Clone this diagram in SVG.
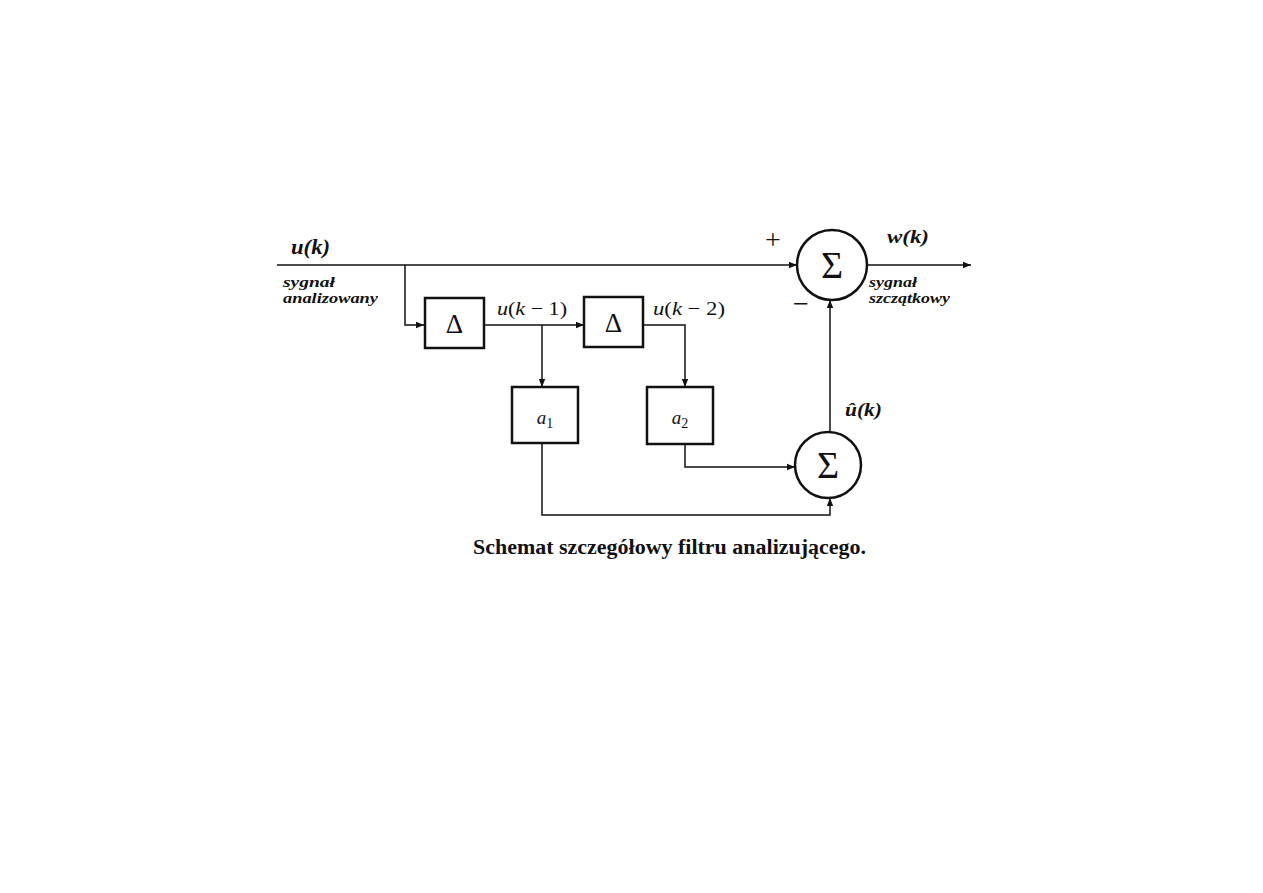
<svg xmlns="http://www.w3.org/2000/svg" width="1263" height="893" viewBox="0 0 1263 893">
<style>
.ln{fill:none;stroke:#111;stroke-width:1.5}
.bx{fill:#fff;stroke:#111;stroke-width:2.5}
.t{font-family:"Liberation Serif",serif;fill:#111}
.bi{font-weight:bold;font-style:italic}
</style>
<defs>
<marker id="ar" viewBox="0 0 10 10" refX="10" refY="5" markerWidth="8" markerHeight="8" markerUnits="userSpaceOnUse" orient="auto">
<path d="M0,1 L10,5 L0,9 z" fill="#111"/>
</marker>
</defs>
<rect width="1263" height="893" fill="#fff"/>
<g id="connectors">
<path class="ln" d="M277,265 H797" marker-end="url(#ar)"/>
<path class="ln" d="M867,265 H971" marker-end="url(#ar)"/>
<path class="ln" d="M405,265 V325 H424" marker-end="url(#ar)"/>
<path class="ln" d="M484,325 H584" marker-end="url(#ar)"/>
<path class="ln" d="M542,325 V387" marker-end="url(#ar)"/>
<path class="ln" d="M643,325 H685 V387" marker-end="url(#ar)"/>
<path class="ln" d="M685,444 V467 H795" marker-end="url(#ar)"/>
<path class="ln" d="M542,443 V515 H830 V498" marker-end="url(#ar)"/>
<path class="ln" d="M830,432 V300" marker-end="url(#ar)"/>
</g>
<g id="delay1">
<rect class="bx" x="425" y="298" width="59" height="50"/>
<text class="t" x="454.5" y="333" font-size="27" text-anchor="middle">Δ</text>
</g>
<g id="delay2">
<rect class="bx" x="584" y="297" width="59" height="50"/>
<text class="t" x="613.5" y="332" font-size="27" text-anchor="middle">Δ</text>
</g>
<g id="coef1">
<rect class="bx" x="512" y="387" width="66" height="56"/>
<text class="t" x="545" y="424" font-size="19" text-anchor="middle"><tspan font-style="italic">a</tspan><tspan font-size="14" dy="4">1</tspan></text>
</g>
<g id="coef2">
<rect class="bx" x="647" y="387" width="66" height="57"/>
<text class="t" x="680" y="424" font-size="19" text-anchor="middle"><tspan font-style="italic">a</tspan><tspan font-size="14" dy="4">2</tspan></text>
</g>
<g id="sum1">
<circle cx="832" cy="265" r="35" fill="#fff" stroke="#111" stroke-width="2.5"/>
<text class="t" x="832" y="278" font-size="38" text-anchor="middle">Σ</text>
</g>
<g id="sum2">
<circle cx="828" cy="465" r="33" fill="#fff" stroke="#111" stroke-width="2.5"/>
<text class="t" x="828" y="478" font-size="38" text-anchor="middle">Σ</text>
</g>
<g id="labels">
<text class="t bi" x="291" y="254" font-size="20" textLength="39" lengthAdjust="spacingAndGlyphs">u(k)</text>
<text class="t bi" x="283" y="287" font-size="14" textLength="52" lengthAdjust="spacingAndGlyphs">sygnał</text>
<text class="t bi" x="283" y="303" font-size="14" textLength="95" lengthAdjust="spacingAndGlyphs">analizowany</text>
<text class="t" x="497" y="315" font-size="19" textLength="70" lengthAdjust="spacingAndGlyphs"><tspan font-style="italic">u</tspan>(<tspan font-style="italic">k</tspan> − 1)</text>
<text class="t" x="653" y="315" font-size="19" textLength="72" lengthAdjust="spacingAndGlyphs"><tspan font-style="italic">u</tspan>(<tspan font-style="italic">k</tspan> − 2)</text>
<text class="t" x="773" y="249" font-size="28" text-anchor="middle">+</text>
<text class="t" x="801" y="313" font-size="28" text-anchor="middle">−</text>
<text class="t bi" x="887" y="243" font-size="19" textLength="42" lengthAdjust="spacingAndGlyphs">w(k)</text>
<text class="t bi" x="869" y="287" font-size="14" textLength="48" lengthAdjust="spacingAndGlyphs">sygnał</text>
<text class="t bi" x="869" y="303" font-size="14" textLength="81" lengthAdjust="spacingAndGlyphs">szczątkowy</text>
<text class="t bi" x="845" y="416" font-size="18" textLength="37" lengthAdjust="spacingAndGlyphs">û(k)</text>
<text class="t" x="473" y="554" font-size="20" font-weight="bold" textLength="393" lengthAdjust="spacingAndGlyphs">Schemat szczegółowy filtru analizującego.</text>
</g>
</svg>
